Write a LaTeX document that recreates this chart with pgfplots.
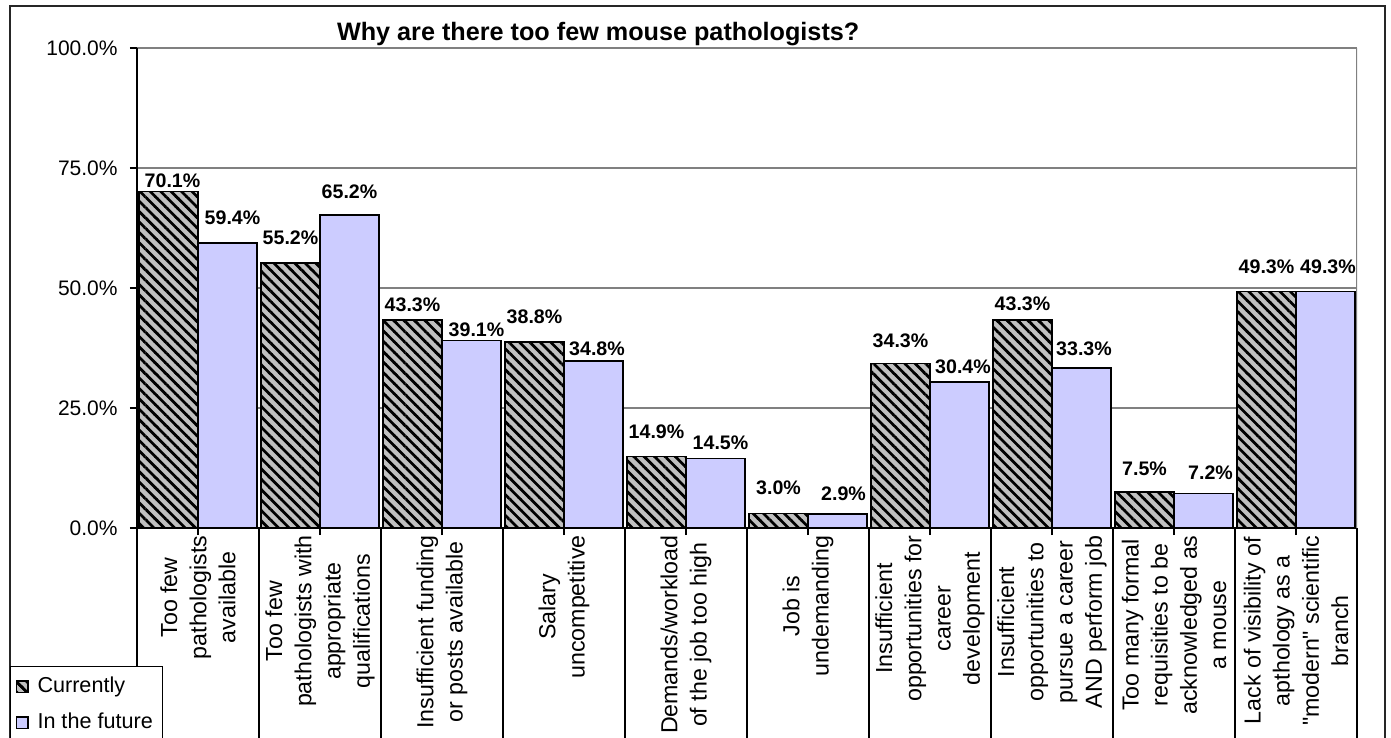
\documentclass[border=0pt]{standalone}
\usepackage{pgfplots}
\pgfplotsset{compat=1.18}
\usepackage{pgfplotstable}
\usepackage{fontspec}
\setmainfont{Liberation Sans}[Ligatures=TeXOff]
\usetikzlibrary{patterns.meta}
\definecolor{hatchgray}{RGB}{192,192,192}
\definecolor{lav}{RGB}{204,204,255}
\definecolor{gridgray}{RGB}{128,128,128}
\pgfdeclarepattern{
  name=hatchNW,
  type=uncolored,
  bottom left={\pgfpoint{-0.05pt}{-0.05pt}},
  top right={\pgfpoint{5.25pt}{5.25pt}},
  tile size={\pgfpoint{5.2pt}{5.2pt}},
  code={
    \pgfsetlinewidth{1.35pt}
    \pgfpathmoveto{\pgfpoint{-1pt}{1pt}}\pgfpathlineto{\pgfpoint{1pt}{-1pt}}
    \pgfpathmoveto{\pgfpoint{-0.5pt}{5.7pt}}\pgfpathlineto{\pgfpoint{5.7pt}{-0.5pt}}
    \pgfpathmoveto{\pgfpoint{4.2pt}{6.2pt}}\pgfpathlineto{\pgfpoint{6.2pt}{4.2pt}}
    \pgfusepath{stroke}
  }
}
\pgfplotstableread{
x y dy dx
0 70.1 1.5 2
1 55.2 9 0
2 43.3 4 0
3 38.8 8.5 0
4 14.9 8.5 0
5 3.0 9 0
6 34.3 7.5 0
7 43.3 4.5 0
8 7.5 8 0
9 49.3 8.5 0
}\curtab
\pgfplotstableread{
x y dy dx
0 59.4 8.5 2.5
1 65.2 8 0
2 39.1 1.5 2.5
3 34.8 2 1.75
4 14.5 4 2.5
5 2.9 6.5 3
6 30.4 4 1.75
7 33.3 6 1.25
8 7.2 6.5 3.5
9 49.3 8.5 1.25
}\futtab
\begin{document}
\begin{tikzpicture}
\path[use as bounding box] (0pt,0pt) rectangle (695.5pt,-369pt);
\draw[line width=0.8pt, black!85] (5pt,-3pt) rectangle (692.5pt,-420pt);
\begin{axis}[
  at={(68.5pt,-264pt)}, anchor=south west,
  scale only axis, width=610pt, height=240pt,
  xmin=-0.5, xmax=9.5, ymin=0, ymax=100,
  enlargelimits=false,
  ybar=0pt, bar width=0.4836,
  axis x line*=bottom, axis y line*=left,
  axis line style={-, black, line width=0.9pt},
  tick align=outside,
  major tick length=3.5pt,
  tick style={black, line width=0.9pt},
  ymajorgrids, major grid style={gridgray, line width=0.9pt},
  ytick={0,25,50,75,100},
  yticklabels={0.0\%,25.0\%,50.0\%,75.0\%,100.0\%},
  yticklabel style={font=\fontsize{10.5}{12}\selectfont, inner sep=0pt, xshift=-6pt},
  xtick={0,...,9},
  xticklabels={
    {Too few\\pathologists\\available},
    {Too few\\pathologists with\\appropriate\\qualifications},
    {Insufficient funding\\or posts available},
    {Salary\\uncompetitive},
    {Demands/workload\\of the job too high},
    {Job is\\undemanding},
    {Insufficient\\opportunities for\\career\\development},
    {Insufficient\\opportunities to\\pursue a career\\AND perform job},
    {Too many formal\\requisities to be\\acknowledged as\\a mouse},
    {Lack of visibility of\\apthology as a\\"modern" scientific\\branch}
  },
  xticklabel style={font=\fontsize{11.6}{14.6}\selectfont, rotate=90, anchor=east, align=center, inner sep=0pt},
  extra x ticks={-0.5,0.5,...,9.5},
  extra x tick labels={},
  extra x tick style={major tick length=105pt, grid=none},
  title={Why are there too few mouse pathologists?},
  title style={at={(0.378,1)}, anchor=base, yshift=-2pt, inner sep=0pt, font=\bfseries\fontsize{12.6}{14}\selectfont},
  nodes near coords={\pgfmathprintnumber[fixed,fixed zerofill,precision=1]{\pgfplotspointmeta}\%},
  /pgf/number format/assume math mode=true,
  visualization depends on={\thisrow{dy}\as\labdy},
  visualization depends on={\thisrow{dx}\as\labdx},
  every node near coord/.append style={anchor=south, inner sep=0pt, yshift=\labdy pt, xshift=\labdx pt, font=\bfseries\fontsize{9.8}{11}\selectfont, black},
  legend style={at={(-0.1041,-0.2875)}, anchor=north west, draw=black, line width=0.6pt, fill=white, inner sep=2.75pt, font=\fontsize{10.8}{12}\selectfont, cells={anchor=west}, row sep=3.5pt, nodes={inner sep=2pt, text height=8pt, text depth=2.5pt}, /tikz/every odd column/.style={column sep=2.5pt}},
]
\addplot[draw=black, line width=0.75pt, fill=hatchgray, postaction={pattern=hatchNW, pattern color=black},
  legend image code/.code={\draw[draw=black, line width=0.6pt, fill=hatchgray, postaction={pattern=hatchNW, pattern color=black}] (0pt,-2.8pt) rectangle (5.6pt,2.8pt);}]
  table[x=x, y=y]{\curtab};
\addlegendentry{Currently}
\addplot[draw=black, line width=0.75pt, fill=lav,
  legend image code/.code={\draw[draw=black, line width=0.6pt, fill=lav] (0pt,-2.8pt) rectangle (5.6pt,2.8pt);}]
  table[x=x, y=y]{\futtab};
\addlegendentry{In the future}
\draw[gridgray, line width=0.9pt] (rel axis cs:1,0) -- (rel axis cs:1,1);
\end{axis}
\end{tikzpicture}
\end{document}
